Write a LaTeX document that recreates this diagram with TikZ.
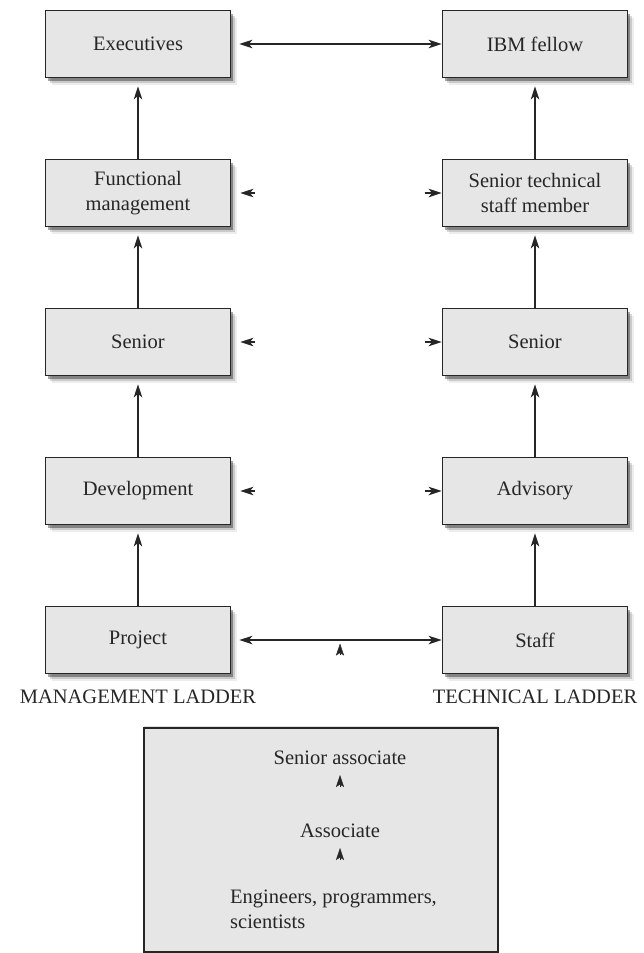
\documentclass[tikz,border=0pt]{standalone}
\usepackage{fontspec}
\setmainfont{Liberation Serif}
\usetikzlibrary{arrows.meta,shadows,calc}
\definecolor{boxfill}{HTML}{E6E6E6}
\definecolor{ink}{HTML}{262626}
\begin{document}
\begin{tikzpicture}[x=1pt,y=-1pt,
  softshadow/.style={
    drop shadow={shadow xshift=2.5pt,shadow yshift=-3pt,fill=black,opacity=.35},
    drop shadow={shadow xshift=4.5pt,shadow yshift=-5pt,fill=black,opacity=.15},
    drop shadow={shadow xshift=6.5pt,shadow yshift=-7pt,fill=black,opacity=.07}},
  ladderbox/.style={rectangle,draw=ink,line width=1.8pt,fill=boxfill,softshadow,
    minimum width=185pt,minimum height=67pt,align=center,text=ink,
    font=\fontsize{20.5}{25}\selectfont},
  lbl/.style={text=ink,font=\fontsize{20.5}{25}\selectfont,inner sep=0pt},
  conn/.style={draw=ink,line width=1.6pt},
  tip/.style={-{Stealth[length=13pt,width=8.5pt,inset=3.5pt]}},
  smalltip/.style={-{Stealth[length=12pt,width=8pt,inset=2.5pt]}},
  dtip/.style={{Stealth[length=13pt,width=8.5pt,inset=3.5pt]}-{Stealth[length=13pt,width=8.5pt,inset=3.5pt]}}]
\useasboundingbox (0,0) rectangle (644,953);

% management ladder
\node[ladderbox] (exe) at (138,44) {Executives};
\node[ladderbox] (fun) at (138,193) {Functional\\management};
\node[ladderbox] (msen) at (138,342) {Senior};
\node[ladderbox] (dev) at (138,491) {Development};
\node[ladderbox] (proj) at (138,640) {Project};

% technical ladder
\node[ladderbox] (ibm) at (535,44) {IBM fellow};
\node[ladderbox] (stsm) at (535,193) {Senior technical\\staff member};
\node[ladderbox] (tsen) at (535,342) {Senior};
\node[ladderbox] (adv) at (535,491) {Advisory};
\node[ladderbox] (staff) at (535,640) {Staff};

\node[lbl] (mlad) at (138,697) {MANAGEMENT LADDER};
\node[lbl] (tlad) at (535,697) {TECHNICAL LADDER};

% vertical arrows
\foreach \a/\b in {proj/dev,dev/msen,msen/fun,fun/exe,staff/adv,adv/tsen,tsen/stsm,stsm/ibm}
  \draw[conn,tip,shorten >=8pt] (\a.north) -- (\b.south);

% horizontal double arrows
\draw[conn,dtip,shorten <=8pt] (exe.east) -- (ibm.west);
\draw[conn,dtip,shorten <=8pt] (proj.east) -- (staff.west);

% small stubs between middle rows
\foreach \l/\r in {fun/stsm,msen/tsen,dev/adv}{
  \coordinate (\l s) at ($(\l.east)+(24,0)$);
  \coordinate (\l e) at ($(\l.east)+(9,0)$);
  \draw[conn,tip] (\l s) -- (\l e);
  \coordinate (\r s) at ($(\r.west)+(-17,0)$);
  \draw[conn,tip] (\r s) -- (\r.west);
}

% small up arrowhead under bottom connector
\coordinate (ua) at (340,655);
\coordinate (ub) at (340,643.5);
\draw[conn,smalltip,line width=0.4pt] (ua) -- (ub);

% entry box
\node[rectangle,draw=ink,line width=1.8pt,fill=boxfill,minimum width=354pt,minimum height=224pt,
  drop shadow={shadow xshift=0pt,shadow yshift=2pt,fill=black,opacity=.12}] (entry) at (321,840) {};
\node[lbl] (sa) at (340,758) {Senior associate};
\node[lbl] (as) at (340,831) {Associate};
\node[lbl,anchor=west,align=left] (eng) at (230,909) {Engineers, programmers,\\scientists};
\coordinate (a1s) at (340,787);
\coordinate (a1e) at (340,775);
\coordinate (a2s) at (340,860);
\coordinate (a2e) at (340,848);
\draw[conn,smalltip,line width=0.4pt] (a1s) -- (a1e);
\draw[conn,smalltip,line width=0.4pt] (a2s) -- (a2e);
\end{tikzpicture}
\end{document}
